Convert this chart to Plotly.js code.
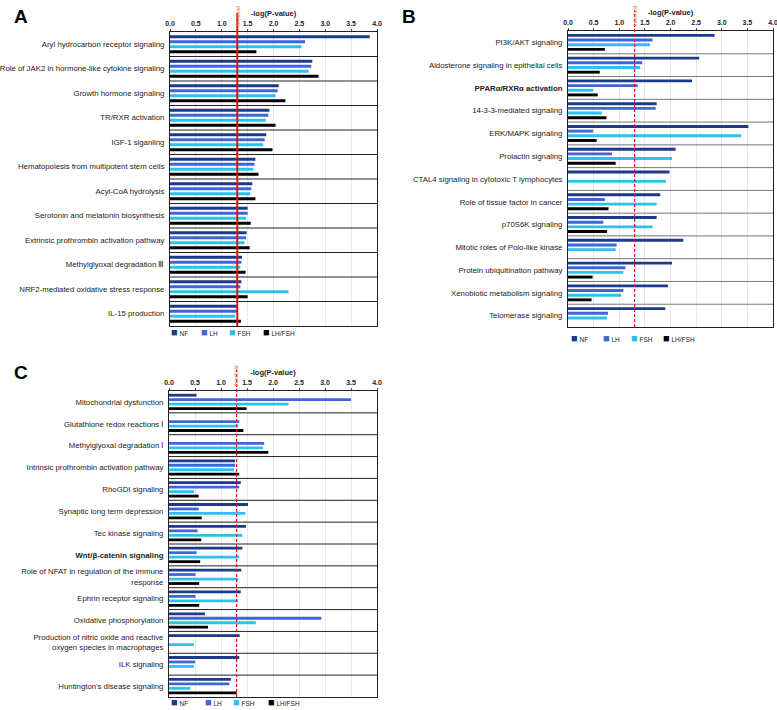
<!DOCTYPE html>
<html>
<head>
<meta charset="utf-8">
<script src="https://cdn.plot.ly/plotly-3.0.1.min.js"></script>
<style>html,body{margin:0;padding:0;background:#fff;}#chart{width:777px;height:710px;}</style>
</head>
<body>
<div id="chart"></div>
<script>
// ---------- Panel A ----------
var catsA = ["Aryl hydrocarbon receptor signaling","Role of JAK2 in hormone-like cytokine signaling","Growth hormone signaling","TR/RXR activation","IGF-1 siganling","Hematopoiesis from multipotent stem cells","Acyl-CoA hydrolysis","Serotonin and melatonin biosynthesis","Extrinsic prothrombin activation pathway","Methylglyoxal degradation Ⅲ","NRF2-mediated oxidative stress response","IL-15 production"];
var nfA    = [3.86, 2.75, 2.10, 1.92, 1.86, 1.65, 1.59, 1.50, 1.48, 1.39, 1.38, 1.31];
var lhA    = [2.61, 2.73, 2.08, 1.90, 1.83, 1.63, 1.57, 1.50, 1.47, 1.38, 1.36, 1.30];
var fshA   = [2.54, 2.68, 2.04, 1.85, 1.80, 1.61, 1.55, 1.47, 1.44, 1.36, 2.29, 1.26];
var lhfshA = [1.67, 2.87, 2.23, 2.04, 1.98, 1.71, 1.65, 1.56, 1.54, 1.46, 1.50, 1.37];

// ---------- Panel B ----------
var catsB = ["PI3K/AKT signaling","Aldosterone signaling in epithelial cells","PPARα/RXRα activation","14-3-3-mediated signaling","ERK/MAPK signaling","Prolactin signaling","CTAL4 signaling in cytotoxic T lymphocytes","Role of tissue factor in cancer","p70S6K signaling","Mitotic roles of Polo-like kinase","Protein ubiquitination pathway","Xenobiotic metabolism signaling","Telomerase signaling"];
var nfB    = [2.86, 2.56, 2.42, 1.73, 3.52, 2.10, 1.98, 1.80, 1.73, 2.25, 2.03, 1.95, 1.90];
var lhB    = [1.65, 1.45, 1.36, 1.71, 0.49, 0.86, null, 0.72, 0.69, 0.95, 1.12, 1.08, 0.78];
var fshB   = [1.60, 1.41, 0.49, 0.66, 3.38, 2.03, 1.91, 1.73, 1.65, 0.93, 1.08, 1.04, 0.76];
var lhfshB = [0.72, 0.62, 0.58, 0.75, 0.56, 0.93, null, 0.79, 0.76, null, 0.48, 0.46, null];

// ---------- Panel C ----------
var catsC = ["Mitochondrial dysfunction","Glutathione redox reactions Ⅰ","Methylglyoxal degradation Ⅰ","Intrinsic prothrombin activation pathway","RhoGDI signaling","Synaptic long term depression","Tec kinase signaling","Wnt/β-catenin signaling","Role of NFAT in regulation of the immune response","Ephrin receptor signaling","Oxidative phosphorylation","Production of nitric oxide and reactive oxygen species in macrophages","ILK signaling","Huntington's disease signaling"];
var nfC    = [0.53, null, null, 1.27, 1.38, 1.52, 1.48, 1.41, 1.39, 1.38, 0.69, 1.36, 1.35, 1.19];
var lhC    = [3.50, 1.35, 1.83, 1.27, 1.35, 0.57, 0.55, 0.53, 0.51, 0.51, 2.93, null, 0.50, 1.16];
var fshC   = [2.30, 1.33, 1.81, 1.25, 0.48, 1.47, 1.41, 1.35, 1.33, 1.33, 1.67, 0.48, 0.48, 0.41];
var lhfshC = [1.49, 1.43, 1.91, 1.35, 0.57, 0.63, 0.62, 0.60, 0.58, 0.58, 0.75, null, null, 1.30];

var seriesNames = ["NF", "LH", "FSH", "LH/FSH"];
var boldCats = ["PPARα/RXRα activation", "Wnt/β-catenin signaling"];
var wrapCats = {
  "Role of NFAT in regulation of the immune response": "Role of NFAT in regulation of the immune<br>response",
  "Production of nitric oxide and reactive oxygen species in macrophages": "Production of nitric oxide and reactive<br>oxygen species in macrophages"
};
var threshold = 1.3;

var colors = ["#1b3a8c", "#3f66d9", "#2cc2ec", "#000000"];
var FONT = "Liberation Sans, Arial, sans-serif";

function labelOf(c) {
  var t = wrapCats[c] || c;
  if (boldCats.indexOf(c) >= 0) t = "<b>" + t + "</b>";
  return t;
}

var panels = [
  {cats: catsA, vals: [nfA, lhA, fshA, lhfshA], xa: "x", ya: "y",
   legX: [169, 199, 227, 261], legY: 332},
  {cats: catsB, vals: [nfB, lhB, fshB, lhfshB], xa: "x2", ya: "y2",
   legX: [569, 601, 629, 661], legY: 338},
  {cats: catsC, vals: [nfC, lhC, fshC, lhfshC], xa: "x3", ya: "y3",
   legX: [169, 203, 231, 266], legY: 702}
];

var data = [];
var shapes = [];
var annotations = [];
panels.forEach(function (p, pi) {
  p.vals.forEach(function (v, si) {
    data.push({
      type: "bar", orientation: "h",
      x: v, y: p.cats,
      name: seriesNames[si],
      marker: {color: colors[si]},
      xaxis: p.xa, yaxis: p.ya,
      showlegend: false,
      hoverinfo: "x+y+name"
    });
    // legend entry (coloured square + label)
    annotations.push({xref: "paper", yref: "paper",
      x: p.legX[si] / 777, y: 1 - p.legY / 710, xanchor: "left", yanchor: "middle",
      showarrow: false,
      text: '<span style="color:' + colors[si] + ';font-size:11px">■</span> ' + seriesNames[si],
      font: {family: FONT, size: 6.5, color: "#222"}});
  });
  var xsuf = p.xa.replace("x", ""), ysuf = p.ya.replace("y", "");
  for (var i = 0; i < p.cats.length - 1; i++) {
    shapes.push({type: "line", xref: "x" + xsuf + " domain", yref: p.ya,
      x0: 0, x1: 1, y0: i + 0.5, y1: i + 0.5,
      line: {color: pi === 1 ? "#777" : "#222", width: 1}});
  }
  shapes.push({type: "line", xref: p.xa, yref: "y" + ysuf + " domain",
    x0: threshold, x1: threshold, y0: 0, y1: pi === 0 ? 1.065 : 1.07,
    line: {color: pi === 0 ? "#e01010" : "#d01818", width: pi === 0 ? 2 : 1.2, dash: pi === 0 ? "solid" : "3px,2px"}});
  annotations.push({xref: p.xa, yref: "y" + ysuf + " domain", x: threshold, y: 1.01,
    yanchor: "bottom", xanchor: "center", textangle: -90, showarrow: false,
    text: "threshold", font: {family: FONT, size: 5, color: "#e07a3a"}});
});

annotations.push({xref: "paper", yref: "paper", x: 12 / 777, y: 1 - 4 / 710, xanchor: "left", yanchor: "top", showarrow: false, text: "<b>A</b>", font: {family: FONT, size: 19, color: "#000"}});
annotations.push({xref: "paper", yref: "paper", x: 400 / 777, y: 1 - 4 / 710, xanchor: "left", yanchor: "top", showarrow: false, text: "<b>B</b>", font: {family: FONT, size: 19, color: "#000"}});
annotations.push({xref: "paper", yref: "paper", x: 12 / 777, y: 1 - 360 / 710, xanchor: "left", yanchor: "top", showarrow: false, text: "<b>C</b>", font: {family: FONT, size: 19, color: "#000"}});

function xaxisDef(domain, anchor) {
  return {
    domain: domain, anchor: anchor, side: "top", range: [0, 4],
    tickmode: "linear", tick0: 0, dtick: 0.5, tickformat: ".1f",
    tickfont: {family: FONT, size: 7, color: "#222", weight: "bold"},
    ticks: "outside", ticklen: 2, tickcolor: "#444",
    ticklabeloverflow: "allow",
    showgrid: true, gridcolor: "#e8e8e8", gridwidth: 1,
    showline: true, linecolor: "#222", linewidth: 1, mirror: true,
    zeroline: false, fixedrange: true, automargin: false,
    title: {text: "<b>-log(P-value)</b>", font: {family: FONT, size: 7.5, color: "#222"}, standoff: 2}
  };
}
function yaxisDef(domain, anchor, cats) {
  return {
    domain: domain, anchor: anchor, type: "category", autorange: "reversed",
    tickmode: "array", tickvals: cats, ticktext: cats.map(labelOf),
    tickfont: {family: FONT, size: 7.8, color: "#222"},
    ticks: "", ticklabelstandoff: 3, ticklabeloverflow: "allow", showgrid: false,
    showline: true, linecolor: "#222", linewidth: 1, mirror: true,
    zeroline: false, fixedrange: true, automargin: false
  };
}

var layout = {
  width: 777, height: 710,
  margin: {l: 0, r: 0, t: 0, b: 0, autoexpand: false},
  paper_bgcolor: "#fff", plot_bgcolor: "#fff",
  font: {family: FONT},
  barmode: "group", bargap: 0.18, bargroupgap: 0.38,
  showlegend: false,
  xaxis: xaxisDef([170 / 777, 377 / 777], "y"),
  yaxis: yaxisDef([1 - 326 / 710, 1 - 32 / 710], "x", catsA),
  xaxis2: xaxisDef([568 / 777, 773 / 777], "y2"),
  yaxis2: yaxisDef([1 - 327 / 710, 1 - 31 / 710], "x2", catsB),
  xaxis3: xaxisDef([169 / 777, 377 / 777], "y3"),
  yaxis3: yaxisDef([1 - 697 / 710, 1 - 391 / 710], "x3", catsC),
  shapes: shapes,
  annotations: annotations
};

Plotly.newPlot("chart", data, layout, {staticPlot: true, displayModeBar: false});
</script>
</body>
</html>
